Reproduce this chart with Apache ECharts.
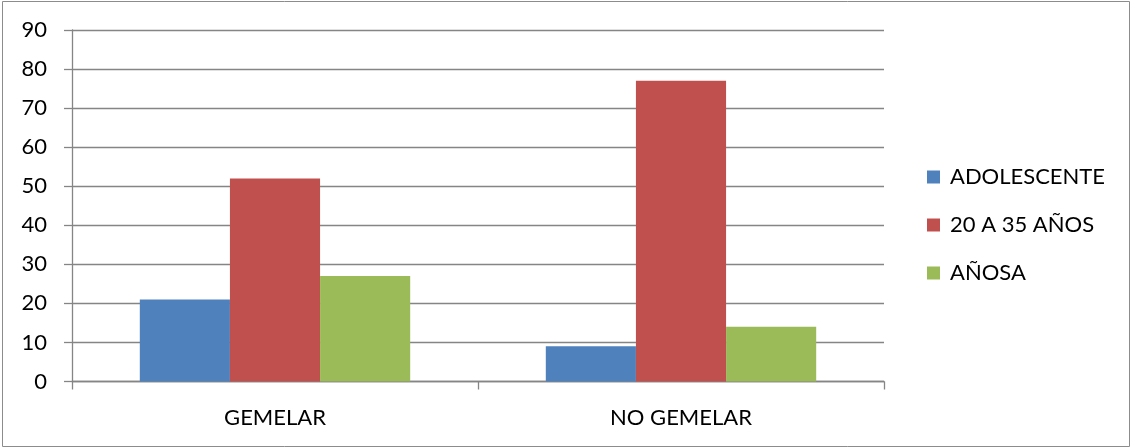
<!DOCTYPE html>
<html>
<head>
<meta charset="utf-8">
<script src="https://cdn.jsdelivr.net/npm/echarts@6/dist/echarts.min.js"></script>
<style>
  html, body { margin: 0; padding: 0; background: #ffffff; }
  #chart { width: 1131px; height: 448px; }
</style>
</head>
<body>
<div id="chart"></div>
<script>
// Categories, series and axis ticks
const categories = ['GEMELAR', 'NO GEMELAR'];
const seriesNames = ['ADOLESCENTE', '20 A 35 AÑOS', 'AÑOSA'];
const adolescente = [21, 9];
const veinteA35 = [52, 77];
const anosa = [27, 14];
const yTicks = { min: 0, max: 90, step: 10 };

const colors = ['#4F81BD', '#C0504D', '#9BBB59'];
const font = 'Lato, "Open Sans", sans-serif';
const gray = '#858585';

const chart = echarts.init(document.getElementById('chart'), null, { renderer: 'canvas' });

const values = [adolescente, veinteA35, anosa];

chart.setOption({
  animation: false,
  color: colors,
  textStyle: { fontFamily: font },
  graphic: [{
    type: 'rect',
    shape: { x: 2.5, y: 1.5, width: 1127, height: 445 },
    style: { fill: 'none', stroke: '#8c8c8c', lineWidth: 1 },
    silent: true
  }],
  grid: { left: 72, right: 247, top: 30, bottom: 66.5, containLabel: false },
  legend: {
    orient: 'vertical',
    left: 927,
    top: 166,
    padding: 0,
    itemWidth: 13,
    itemHeight: 13,
    itemGap: 26,
    icon: 'rect',
    textStyle: { fontFamily: font, fontSize: 22, color: '#000', lineHeight: 20, padding: [0, 0, 0, 5] },
    data: seriesNames
  },
  xAxis: {
    type: 'category',
    data: categories,
    axisLine: { show: true, lineStyle: { color: gray, width: 1.3 } },
    axisTick: { show: true, alignWithLabel: false, length: 8, lineStyle: { color: gray, width: 1.3 } },
    axisLabel: { color: '#000', fontFamily: font, fontSize: 22, margin: 25 },
    splitLine: { show: false }
  },
  yAxis: {
    type: 'value',
    min: yTicks.min,
    max: yTicks.max,
    interval: yTicks.step,
    axisLine: { show: true, lineStyle: { color: gray, width: 1.3 } },
    axisTick: { show: true, length: 8, lineStyle: { color: gray, width: 1.3 } },
    axisLabel: { color: '#000', fontFamily: font, fontSize: 22, margin: 25 },
    splitLine: { show: true, lineStyle: { color: gray, width: 1.3 } }
  },
  series: seriesNames.map((name, i) => ({
    name: name,
    type: 'bar',
    data: values[i],
    barGap: '0%',
    barCategoryGap: '33.4%',
    itemStyle: { color: colors[i] }
  }))
});
</script>
</body>
</html>
